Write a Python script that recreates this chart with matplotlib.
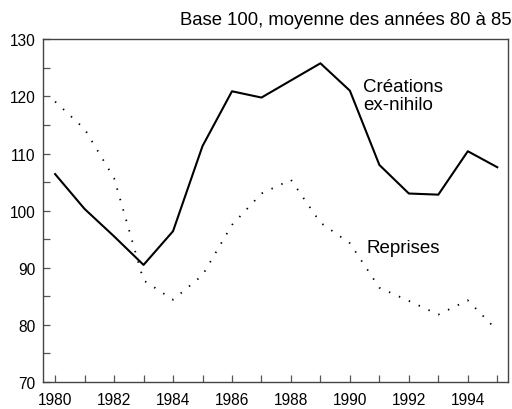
import matplotlib
matplotlib.use("Agg")
import matplotlib.pyplot as plt
from matplotlib.ticker import MultipleLocator

plt.rcParams["font.family"] = ["Liberation Sans", "DejaVu Sans"]

# Base 100, moyenne des années 80 à 85
years = list(range(1980, 1996))
creations = [106.4, 100.3, 95.5, 90.5, 96.4, 111.3, 120.9, 119.8,
             122.8, 125.8, 121.0, 108.0, 103.0, 102.8, 110.4, 107.6]
reprises = [119.1, 114.3, 105.7, 87.8, 84.4, 88.7, 97.5, 103.0,
            105.4, 97.9, 94.3, 86.5, 84.2, 81.8, 84.3, 79.0]

fig = plt.figure(figsize=(5.12, 4.10), dpi=100)
ax = fig.add_axes([0.0846, 0.0659, 0.9074, 0.8358])

ax.plot(years, creations, color="black", lw=1.5)
ax.plot(years, reprises, color="black", lw=1.3, linestyle=(0, (0.8, 5.2)))

ax.set_xlim(1979.6, 1995.36)
ax.set_ylim(70, 130)
ax.xaxis.set_major_locator(MultipleLocator(2))
ax.xaxis.set_minor_locator(MultipleLocator(1))
ax.yaxis.set_major_locator(MultipleLocator(10))
ax.yaxis.set_minor_locator(MultipleLocator(5))
ax.tick_params(which="both", direction="in", length=5, width=0.9, color="#555555")
ax.tick_params(axis="x", which="major", pad=7.5, labelsize=11.2)
ax.tick_params(axis="y", which="major", pad=5.5, labelsize=11.2)
for s in ax.spines.values():
    s.set_color("#444444")
    s.set_linewidth(1.0)

ax.text(1990.44, 120.1, "Créations\nex-nihilo", fontsize=13.5,
        ha="left", va="center", linespacing=1.1)
ax.text(1990.57, 93.6, "Reprises", fontsize=13.5, ha="left", va="center")
fig.text(0.999, 0.93, "Base 100, moyenne des années 80 à 85", fontsize=13.3,
         ha="right", va="bottom")

fig.savefig("out.png", dpi=100)
